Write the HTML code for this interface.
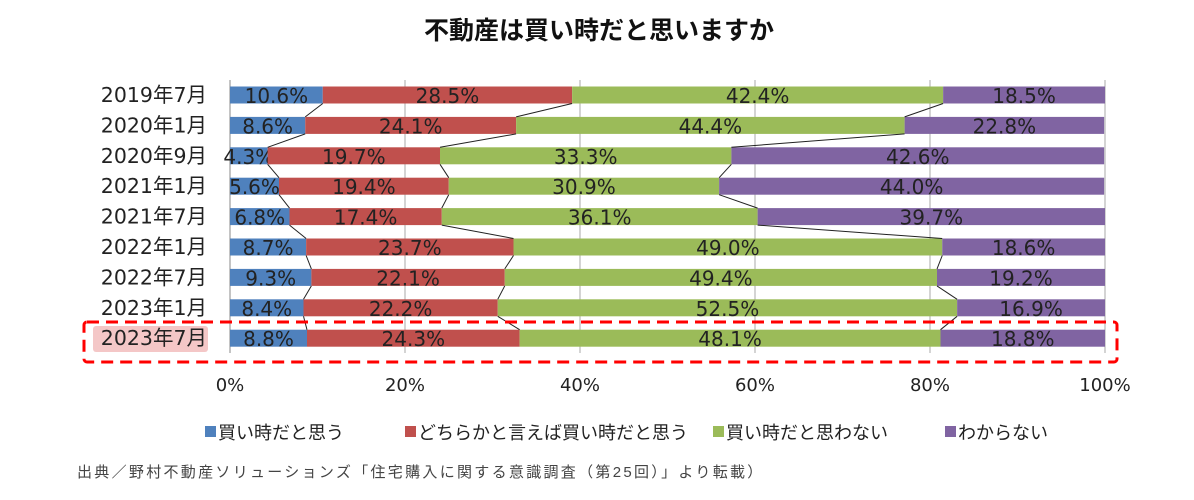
<!DOCTYPE html>
<html><head><meta charset="utf-8"><style>
body{margin:0;background:#fff;width:1194px;height:500px;overflow:hidden;font-family:"Liberation Sans","Noto Sans CJK JP",sans-serif}
</style></head><body>
<svg id="c" width="1194" height="500" style="position:absolute;left:0;top:0">
<text x="599" y="39" text-anchor="middle" font-size="25" font-weight="bold" fill="#111">不動産は買い時だと思いますか</text>
</svg>
<script>
const categories=["2019年7月","2020年1月","2020年9月","2021年1月","2021年7月","2022年1月","2022年7月","2023年1月","2023年7月"];
const buyNow=[10.6,8.6,4.3,5.6,6.8,8.7,9.3,8.4,8.8];
const ratherBuy=[28.5,24.1,19.7,19.4,17.4,23.7,22.1,22.2,24.3];
const notBuy=[42.4,44.4,33.3,30.9,36.1,49.0,49.4,52.5,48.1];
const unknown=[18.5,22.8,42.6,44.0,39.7,18.6,19.2,16.9,18.8];
const seriesNames=["買い時だと思う","どちらかと言えば買い時だと思う","買い時だと思わない","わからない"];
const xTicks=[0,20,40,60,80,100];
const colors=["#4f81bd","#c0504d","#9bbb59","#8064a2"];
const NS="http://www.w3.org/2000/svg",svg=document.getElementById('c');
const NUMF='"DejaVu Sans","Noto Sans CJK JP",sans-serif';
const X0=230,X1=1105,T=80,B=353,rowH=30.4,r0=95,bh=17;
const xs=v=>X0+(X1-X0)*v/100, yc=i=>r0+i*rowH;
function el(t,a,p){const e=document.createElementNS(NS,t);for(const k in a)e.setAttribute(k,a[k]);(p||svg).appendChild(e);return e;}
xTicks.forEach(t=>{const g=el('line',{x1:xs(t),x2:xs(t),y1:T,y2:B,stroke:t==0?'#888':'#aaa','stroke-width':1});


const l=el('text',{x:xs(t),y:391,'text-anchor':'middle','font-size':18,fill:'#222','font-family':NUMF});l.textContent=t+'%';

});
const hl=el('rect',{x:93,y:326,width:115,height:26,rx:3,fill:'#f4c7c7'});


const series=[buyNow,ratherBuy,notBuy,unknown];
categories.forEach((c,i)=>{
 const lb=el('text',{x:207,y:yc(i)+7,'text-anchor':'end','font-size':20.5,fill:'#222','font-family':NUMF});lb.textContent=c;
 
 
 let cum=0;
 series.forEach((s,k)=>{
  const r=el('rect',{x:xs(cum),y:yc(i)-bh/2,width:xs(cum+s[i])-xs(cum),height:bh,fill:colors[k]});
  
  
  const t=el('text',{x:(xs(cum)+xs(cum+s[i]))/2,y:yc(i)+8,'text-anchor':'middle','font-size':20,fill:'#222','font-family':NUMF});
  t.textContent=s[i].toFixed(1)+'%';
  
  
  cum+=s[i];
 });
});
for(let i=0;i<categories.length-1;i++){let cum=0,cn=0;
 for(let k=0;k<3;k++){cum+=series[k][i];cn+=series[k][i+1];
  const ln=el('line',{x1:xs(cum),y1:yc(i)+bh/2,x2:xs(cn),y2:yc(i+1)-bh/2,stroke:'#222','stroke-width':1});
  
  }}
const bx=el('rect',{x:84,y:322,width:1033,height:40,rx:3,fill:'none',stroke:'#f00','stroke-width':3,'stroke-dasharray':'12,7'});


const lx=[205,405,713,945];
seriesNames.forEach((n,k)=>{const g=el('g',{});
 
 
 el('rect',{x:lx[k],y:426,width:11,height:11,fill:colors[k]},g);
 const t=el('text',{x:lx[k]+13,y:439,'font-size':18,fill:'#222'},g);t.textContent=n;});
const src=el('text',{x:77,y:477,'font-size':15,fill:'#444','letter-spacing':'2.3'});
src.textContent='出典／野村不動産ソリューションズ「住宅購入に関する意識調査（第25回）」より転載）';


</script>
</body></html>
